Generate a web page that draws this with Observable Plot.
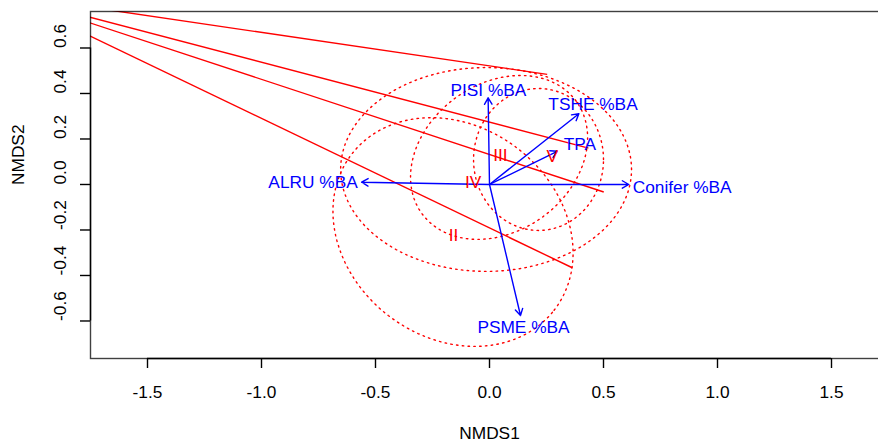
<!DOCTYPE html>
<html><head><meta charset="utf-8">
<script src="https://cdn.jsdelivr.net/npm/d3@7"></script>
<script src="https://cdn.jsdelivr.net/npm/@observablehq/plot@0.6"></script>
<style>
html,body{margin:0;padding:0;background:#fff;overflow:hidden}
#chart svg{display:block}
</style></head><body><div id="chart"></div>
<script>
// ---- Axis limits, ticks, titles ----
const xLim = [-1.75, 1.75];
const yLim = [-0.7649, 0.7604];
const xTicks = [-1.5, -1.0, -0.5, 0.0, 0.5, 1.0, 1.5];
const xTickLabels = ["-1.5", "-1.0", "-0.5", "0.0", "0.5", "1.0", "1.5"];
const yTicks = [-0.6, -0.4, -0.2, 0.0, 0.2, 0.4, 0.6];
const yTickLabels = ["-0.6", "-0.4", "-0.2", "0.0", "0.2", "0.4", "0.6"];
const xTitle = "NMDS1";
const yTitle = "NMDS2";

// ---- Environmental vectors (arrow tips and label positions) ----
const vecNames = ["PISI %BA", "TSHE %BA", "TPA", "Conifer %BA", "ALRU %BA", "PSME %BA"];
const vecX = [-0.006, 0.392, 0.297, 0.611, -0.561, 0.136];
const vecY = [0.381, 0.311, 0.146, 0.000, 0.010, -0.576];
const vecLabelX = [-0.005, 0.454, 0.396, 0.845, -0.774, 0.149];
const vecLabelY = [0.415, 0.352, 0.175, -0.012, 0.007, -0.630];

// ---- Group labels ----
const groupNames = ["II", "III", "IV", "V"];
const groupX = [-0.158, 0.048, -0.072, 0.275];
const groupY = [-0.223, 0.129, 0.009, 0.122];

// ---- Group ellipses (centre, semi-axes, rotation in degrees) ----
const ellNames = ["II", "IV", "V", "III"];
const ellCx = [-0.160, -0.015, 0.215, 0.042];
const ellCy = [-0.209, 0.066, 0.110, 0.119];
const ellA = [0.561, 0.638, 0.285, 0.419];
const ellB = [0.464, 0.448, 0.312, 0.324];
const ellAngle = [-37.8, 0, 0, 36.3];

// ---- Solid red segments (common origin off-plot) ----
const segFromX = -2.13;
const segFromY = 0.835;
const segToX = [0.253, 0.434, 0.501, 0.363];
const segToY = [0.484, 0.160, -0.033, -0.366];

// ---- build tables ----
const vecIdx = vecNames.map((_, i) => i);
const segIdx = segToX.map((_, i) => i);
const ellPts = [];
ellNames.forEach((g, i) => {
  const th = ellAngle[i] * Math.PI / 180;
  const n = 160;
  for (let k = 0; k <= n; k++) {
    const t = 2 * Math.PI * k / n;
    const ca = ellA[i] * Math.cos(t), sb = ellB[i] * Math.sin(t);
    ellPts.push({g, x: ellCx[i] + ca * Math.cos(th) - sb * Math.sin(th),
                    y: ellCy[i] + ca * Math.sin(th) + sb * Math.cos(th)});
  }
});

const FONT = "'Liberation Sans', Arial, Helvetica, sans-serif";
const FS = 17.3;
const RED = "#FF0000", BLUE = "#0000FF";

const chart = Plot.plot({
  width: 878,
  height: 443,
  marginLeft: 90,
  marginRight: -10,
  marginTop: 11,
  marginBottom: 85,
  style: {fontFamily: FONT, background: "#fff"},
  x: {domain: xLim, axis: null},
  y: {domain: yLim, axis: null},
  marks: [
    // dotted ellipses
    Plot.line(ellPts, {x: "x", y: "y", z: "g", stroke: RED, strokeWidth: 1.4,
      strokeDasharray: "1.5,4.3", clip: true}),
    // solid red segments
    Plot.link(segIdx, {x1: () => segFromX, y1: () => segFromY,
      x2: i => segToX[i], y2: i => segToY[i], stroke: RED, strokeWidth: 1.4, clip: true}),
    // blue arrows
    Plot.arrow(vecIdx, {x1: () => 0, y1: () => 0, x2: i => vecX[i], y2: i => vecY[i],
      stroke: BLUE, strokeWidth: 1.4, headLength: 8, headAngle: 60}),
    // arrow labels
    Plot.text(vecIdx, {x: i => vecLabelX[i], y: i => vecLabelY[i], text: i => vecNames[i],
      fill: BLUE, fontSize: FS, textAnchor: "middle", lineAnchor: "middle"}),
    // group labels
    Plot.text(groupNames, {x: (d, i) => groupX[i], y: (d, i) => groupY[i], text: d => d,
      fill: RED, fontSize: FS, textAnchor: "middle", lineAnchor: "middle"}),
    // frame (box)
    Plot.frame({stroke: "#000", strokeOpacity: 0.75, strokeWidth: 1.4}),
    // axis lines over tick range
    Plot.ruleY([yLim[0]], {x1: () => xTicks[0], x2: () => xTicks[xTicks.length - 1], stroke: "#000", strokeWidth: 1.4}),
    Plot.ruleX([xLim[0]], {y1: () => yTicks[0], y2: () => yTicks[yTicks.length - 1], stroke: "#000", strokeWidth: 1.4}),
    // ticks
    Plot.axisX(xTicks, {anchor: "bottom", tickSize: 10, tickFormat: () => "", strokeWidth: 1.4, label: null}),
    Plot.axisY(yTicks, {anchor: "left", tickSize: 10, tickFormat: () => "", strokeWidth: 1.4, label: null}),
    // tick labels
    Plot.text(xTicks, {x: d => d, text: (d, i) => xTickLabels[i], frameAnchor: "bottom", dy: 34,
      fontSize: FS, fill: "#000", lineAnchor: "middle"}),
    Plot.text(yTicks, {y: d => d, text: (d, i) => yTickLabels[i], frameAnchor: "left", dx: -30,
      rotate: -90, fontSize: FS, fill: "#000", lineAnchor: "middle"}),
    // axis titles
    Plot.text([xTitle], {x: () => (xLim[0] + xLim[1]) / 2, text: d => d, frameAnchor: "bottom", dy: 75,
      fontSize: FS, fill: "#000", lineAnchor: "middle"}),
    Plot.text([yTitle], {text: d => d, frameAnchor: "left", dx: -72, rotate: -90,
      fontSize: FS, fill: "#000", lineAnchor: "middle"})
  ]
});
document.getElementById("chart").appendChild(chart);
</script></body></html>
